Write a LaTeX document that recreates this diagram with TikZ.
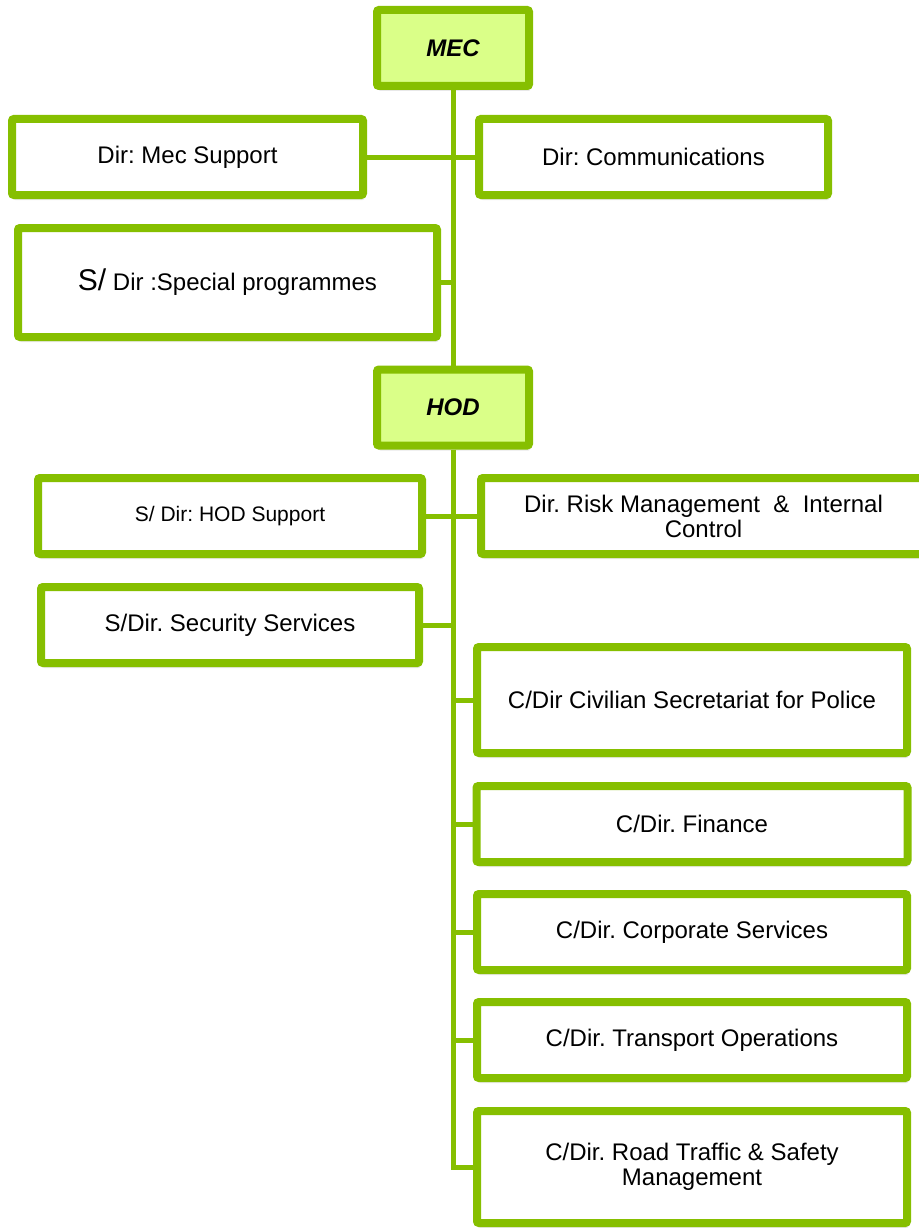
\documentclass[tikz,border=0pt]{standalone}
\usepackage{fontspec}
\setmainfont{Liberation Sans}
\usepackage{tikz}
\usetikzlibrary{shadows}
\definecolor{leafgreen}{RGB}{134,191,0}
\definecolor{palegreen}{RGB}{218,255,136}
\frenchspacing
\begin{document}
\begin{tikzpicture} [x=1pt, y=-1pt,
  unit/.style={draw=leafgreen, line width=8pt, rounded corners=2pt, fill=white,
    drop shadow={shadow xshift=1.5pt, shadow yshift=-5pt, opacity=0.18},
    align=center, inner sep=0pt, font=\fontsize{24}{25}\selectfont},
  head/.style={unit, fill=palegreen, minimum width=152pt, minimum height=76pt,
    font=\fontsize{24}{25}\selectfont\bfseries\itshape},
  link/.style={draw=leafgreen, line width=5pt}]
\useasboundingbox (0,0) rectangle (918,1228);
% top level
\node [head] (mec) at (453,48) {MEC};
\node [unit, minimum width=351pt, minimum height=76pt] (mecsup) at (187.5,157) {Dir: Mec Support};
\node [unit, minimum width=349pt, minimum height=76pt] (comms) at (653.5,157) {Dir: Communications};
\node [unit, minimum width=419pt, minimum height=109pt] (special) at (227.5,282.5) {{\fontsize{30}{30}\selectfont S/} Dir :Special programmes};
\node [head] (hod) at (453,407.5) {HOD};
% under HOD
\node [unit, minimum width=384pt, minimum height=76pt, font=\fontsize{21}{22}\selectfont] (hodsup) at (230,516) {S/ Dir: HOD Support};
\node [unit, minimum width=445pt, minimum height=76pt] (risk) at (703.5,516) {Dir. Risk Management\ \ \&\ \ Internal\\Control};
\node [unit, minimum width=378pt, minimum height=76pt] (security) at (230,625) {S/Dir. Security Services};
\node [unit, minimum width=430pt, minimum height=106pt] (civilian) at (692,700) {C/Dir Civilian Secretariat for Police};
\node [unit, minimum width=431pt, minimum height=76pt] (finance) at (692,824) {C/Dir. Finance};
\node [unit, minimum width=430pt, minimum height=76pt] (corporate) at (692,932) {C/Dir. Corporate Services};
\node [unit, minimum width=430pt, minimum height=76pt] (transport) at (692,1040) {C/Dir. Transport Operations};
\node [unit, minimum width=430pt, minimum height=112pt] (road) at (692,1167) {C/Dir. Road Traffic \& Safety\\Management};
% lines
\draw [link] (mec.south) -- (mec.south |- hod.north);
\draw [link] (mecsup.east) -- (comms.west);
\draw [link] (special.east) -- (special.east -| mec.south);
\draw [link] (hod.south) |- (road.west);
\draw [link] (hodsup.east) -- (risk.west);
\draw [link] (security.east) -- (security.east -| hod.south);
\draw [link] (civilian.west) -- (civilian.west -| hod.south);
\draw [link] (finance.west) -- (finance.west -| hod.south);
\draw [link] (corporate.west) -- (corporate.west -| hod.south);
\draw [link] (transport.west) -- (transport.west -| hod.south);
\end{tikzpicture}
\end{document}
